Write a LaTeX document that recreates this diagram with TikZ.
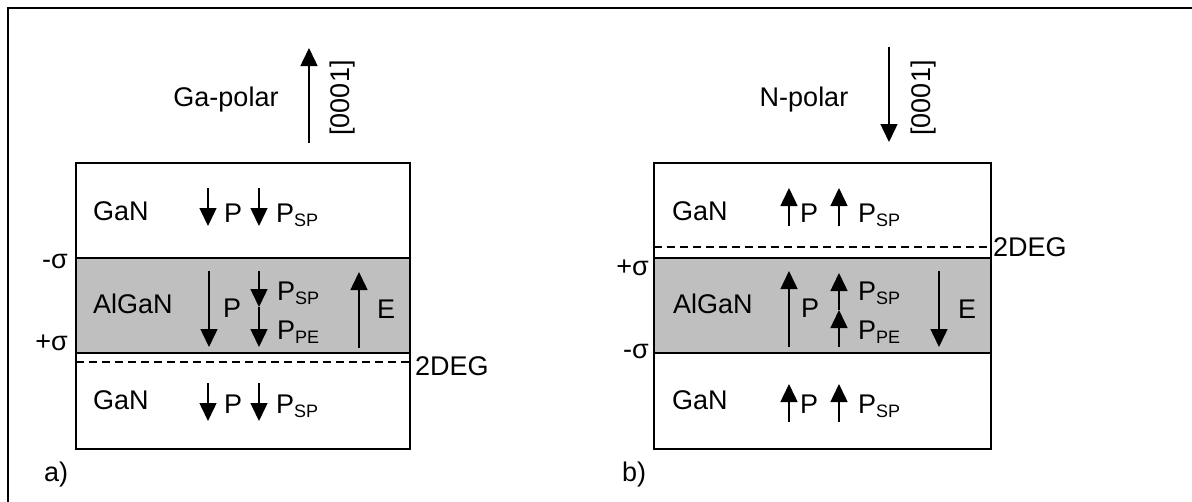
\documentclass[tikz,border=0pt]{standalone}
\usepackage{fontspec}
\setmainfont{Liberation Sans}
\usetikzlibrary{arrows.meta}
\newcommand{\subsc}[1]{\raisebox{-0.35ex}{\fontsize{18}{18}\selectfont #1}}

\begin{document}
\begin{tikzpicture}[x=1pt, y=-1pt, >={Triangle[width=17pt,length=18pt]},
    lbl/.style={font=\fontsize{27}{30}\selectfont, inner sep=0pt},
    parrow/.style={->, line width=1.5pt},
    layer/.style={line width=2pt},
    deg/.style={dash pattern=on 8pt off 5pt, line width=1.5pt}]
    \useasboundingbox (0,0) rectangle (1192,501);
    \clip (0,0) rectangle (1192,501);
    % Khung ngoài
    \draw[line width=2pt] (8,8) rectangle (1230,540);

    % a) Ga-polar
    \fill[gray!50] (76,258) rectangle (410,353);
    \draw[layer] (76,163) rectangle (410,449);
    \draw[layer] (76,258) -- (410,258) (76,353) -- (410,353);
    \draw[deg] (76,362) -- (410,362);
    \draw[parrow] (309,143) -- (309,48);
    \node[lbl, anchor=base] (gapolar) at (226,106) {Ga-polar};
    \node[lbl, rotate=90] (dirA) at (343,98) {[0001]};
    \node[lbl, anchor=base west] (ganAt) at (93,220) {GaN};
    \node[lbl, anchor=base west] (alganA) at (93,313) {AlGaN};
    \node[lbl, anchor=base west] (ganAb) at (93,409) {GaN};
    % mũi tên phân cực
    \foreach \y in {188,383} {
        \draw[parrow] (208,\y) -- (208,\y+38);
        \draw[parrow] (259,\y) -- (259,\y+38);
    }
    \node[lbl, anchor=base west] (pAt) at (224,222) {P};
    \node[lbl, anchor=base west] (pspAt) at (276,222) {P\subsc{SP}};
    \node[lbl, anchor=base west] (pAb) at (224,413) {P};
    \node[lbl, anchor=base west] (pspAb) at (276,413) {P\subsc{SP}};
    \draw[parrow] (209,271) -- (209,347);
    \draw[parrow] (259,271) -- (259,307);
    \draw[parrow] (259,307) -- (259,347);
    \draw[parrow] (359,348) -- (359,272);
    \node[lbl, anchor=base west] (pAm) at (223,317) {P};
    \node[lbl, anchor=base west] (pspAm) at (277,300) {P\subsc{SP}};
    \node[lbl, anchor=base west] (ppeAm) at (277,339) {P\subsc{PE}};
    \node[lbl, anchor=base west] (eA) at (377,318) {E};
    \node[lbl, anchor=base east] (sigAt) at (68,268) {-σ};
    \node[lbl, anchor=base east] (sigAb) at (68,350) {+σ};
    \node[lbl, anchor=base west] (degA) at (415,375) {2DEG};
    \node[lbl, anchor=base west] (labA) at (44,481) {a)};

    % b) N-polar
    \fill[gray!50] (654,258) rectangle (991,353);
    \draw[layer] (654,163) rectangle (991,449);
    \draw[layer] (654,258) -- (991,258) (654,353) -- (991,353);
    \draw[deg] (654,247) -- (991,247);
    \draw[parrow] (889,47) -- (889,142);
    \node[lbl, anchor=base] (npolar) at (804,106) {N-polar};
    \node[lbl, rotate=90] (dirB) at (924,98) {[0001]};
    \node[lbl, anchor=base west] (ganBt) at (672,220) {GaN};
    \node[lbl, anchor=base west] (alganB) at (673,313) {AlGaN};
    \node[lbl, anchor=base west] (ganBb) at (672,409) {GaN};
    \foreach \y in {226,422} {
        \draw[parrow] (789,\y) -- (789,\y-38);
        \draw[parrow] (839,\y) -- (839,\y-38);
    }
    \node[lbl, anchor=base west] (pBt) at (800,222) {P};
    \node[lbl, anchor=base west] (pspBt) at (858,222) {P\subsc{SP}};
    \node[lbl, anchor=base west] (pBb) at (800,413) {P};
    \node[lbl, anchor=base west] (pspBb) at (858,413) {P\subsc{SP}};
    \draw[parrow] (789,347) -- (789,271);
    \draw[parrow] (839,347) -- (839,310);
    \draw[parrow] (839,310) -- (839,273);
    \draw[parrow] (939,271) -- (939,347);
    \node[lbl, anchor=base west] (pBm) at (801,317) {P};
    \node[lbl, anchor=base west] (pspBm) at (858,300) {P\subsc{SP}};
    \node[lbl, anchor=base west] (ppeBm) at (858,339) {P\subsc{PE}};
    \node[lbl, anchor=base west] (eB) at (958,318) {E};
    \node[lbl, anchor=base east] (sigBt) at (649,275) {+σ};
    \node[lbl, anchor=base east] (sigBb) at (649,358) {-σ};
    \node[lbl, anchor=base west] (degB) at (993,256) {2DEG};
    \node[lbl, anchor=base west] (labB) at (622,481) {b)};
\end{tikzpicture}
\end{document}
